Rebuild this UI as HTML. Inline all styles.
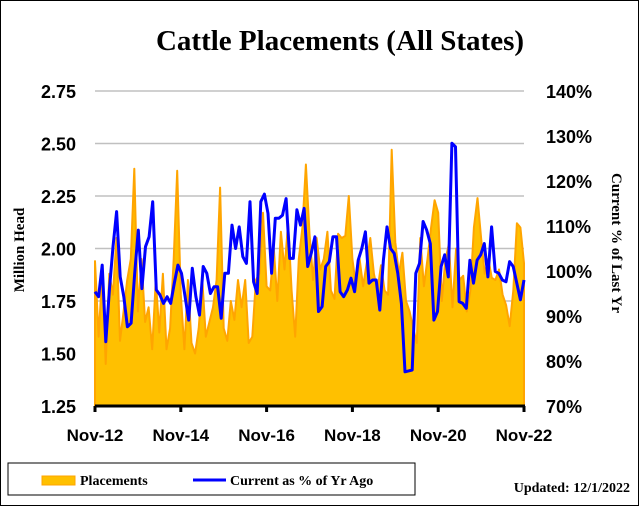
<!DOCTYPE html>
<html><head><meta charset="utf-8"><style>
body{margin:0;background:#fff;}
#wrap{position:relative;width:639px;height:506px;overflow:hidden;font-family:"Liberation Serif",serif;}
</style></head><body>
<div id="wrap">
<svg id="chart" width="639" height="506" xmlns="http://www.w3.org/2000/svg">
<rect x="0.5" y="0.5" width="638" height="505" fill="#fff" stroke="#000"/>
<text x="340" y="50" text-anchor="middle" font-family="Liberation Serif, serif" font-weight="bold" font-size="29">Cattle Placements (All States)</text>
<g id="grid"></g><g id="marks"></g><g id="axes"></g>
<text transform="translate(24,250) rotate(-90)" text-anchor="middle" font-family="Liberation Serif, serif" font-weight="bold" font-size="15">Million Head</text>
<text transform="translate(612,243) rotate(90)" text-anchor="middle" font-family="Liberation Serif, serif" font-weight="bold" font-size="15">Current % of Last Yr</text>
<g>
<rect x="8" y="463" width="407" height="32" fill="#fff" stroke="#000"/>
<rect x="42" y="476" width="33" height="9" fill="#FFC000" stroke="#FFA500"/>
<text x="80" y="485" font-family="Liberation Serif, serif" font-weight="bold" font-size="14">Placements</text>
<line x1="193" y1="480" x2="226" y2="480" stroke="#0000FF" stroke-width="3"/>
<text x="230" y="485" font-family="Liberation Serif, serif" font-weight="bold" font-size="14">Current as % of Yr Ago</text>
</g>
<text x="630" y="492" text-anchor="end" font-family="Liberation Serif, serif" font-weight="bold" font-size="14">Updated: 12/1/2022</text>
</svg>
</div>
<script>
const leftTicks=[1.25,1.5,1.75,2.0,2.25,2.5,2.75];
const leftTickLabels=["1.25","1.50","1.75","2.00","2.25","2.50","2.75"];
const rightTicks=[70,80,90,100,110,120,130,140];
const xTickMonths=[0,24,48,72,96,120];
const xTickLabels=["Nov-12","Nov-14","Nov-16","Nov-18","Nov-20","Nov-22"];
const placements=[
1.94,1.58,1.88,1.45,1.88,1.78,2.05,1.56,1.70,1.85,1.95,2.38,
1.70,1.95,1.65,1.72,1.52,1.85,1.60,1.88,1.52,1.62,1.95,2.37,
1.78,1.52,1.85,1.55,1.50,1.62,1.85,1.58,1.65,1.72,1.85,2.29,
1.62,1.56,1.75,1.66,1.85,1.72,1.85,1.55,1.58,1.85,1.88,2.17,
1.82,1.80,2.00,1.75,2.08,1.90,2.12,1.80,1.58,1.95,2.10,2.40,
2.07,1.85,2.05,1.90,1.95,2.08,1.80,1.76,2.07,2.05,2.06,2.25,
1.95,1.82,1.95,1.82,1.93,2.05,1.88,1.80,1.92,1.80,1.78,2.47,
2.03,1.88,1.98,1.75,1.70,1.62,1.55,2.05,1.82,1.95,2.10,2.23,
2.17,1.75,1.95,2.02,1.72,2.00,1.85,1.87,1.70,1.80,2.10,2.24,
2.05,1.88,1.95,1.86,1.85,1.90,1.78,1.73,1.63,1.80,2.12,2.10,
1.93];
const pctOfYrAgo=[
95.4,94.3,101.3,84.3,95.8,105.4,113.2,98.7,94.3,87.6,88.4,99.5,109.1,96.1,105.4,107.6,115.4,95.8,94.7,92.8,94.3,92.8,97.3,101.3,99.5,94.3,89.1,100.6,94.3,90.2,101,99.5,95,96.5,96.5,89.5,99.5,99.5,110.2,105,
109.8,103.2,101.7,115.4,97.6,95,115.4,117.1,112.8,99.5,111.7,111.7,112.4,116.1,102.8,102.8,113.6,110.2,113.9,101,104,107.6,91,92.1,101,102.1,107.6,107.6,95.4,94.3,95.8,98.4,95.4,102.4,105,
108.7,97.3,98,98,91.3,102.4,109.8,105,103.9,99.5,92.8,77.6,77.8,78,99.5,101.7,111,109.1,106.1,89.1,91,101,103.6,98.7,128.4,127.6,93.2,92.8,91.7,102.4,97.3,102.4,103.6,106.1,98.7,109.8,99.9,99.5,98,97.6,102.1,101,97.3,93.6,98];
const X0=95,X1=524,Y0=406,Y1=91;
function xs(m){return X0+(X1-X0)*m/120;}
function yl(v){return Y0-(v-1.25)/1.5*(Y0-Y1);}
function yr(v){return Y0-(v-70)/70*(Y0-Y1);}
const NS="http://www.w3.org/2000/svg";
function mk(tag,attrs,parent){const e=document.createElementNS(NS,tag);for(const k in attrs)e.setAttribute(k,attrs[k]);parent.appendChild(e);return e;}
const grid=document.getElementById('grid'),marks=document.getElementById('marks'),axes=document.getElementById('axes');
leftTicks.forEach((t,i)=>{
 if(i>0){const g=mk('line',{x1:X0,x2:X1,y1:yl(t),y2:yl(t),stroke:'#c0c0c0','stroke-width':1.5},grid);
 
 }
 const tx=mk('text',{x:76,y:yl(t)+7,'text-anchor':'end','font-family':'Liberation Sans, sans-serif','font-weight':'bold','font-size':18},axes);
 tx.textContent=leftTickLabels[i];
 
 
});
rightTicks.forEach(t=>{
 const tx=mk('text',{x:546,y:yr(t)+7,'font-family':'Liberation Sans, sans-serif','font-weight':'bold','font-size':18},axes);
 tx.textContent=t+'%';
 
 
});
let d='M'+xs(0)+','+Y0;
placements.forEach((v,i)=>{d+=' L'+xs(i).toFixed(1)+','+yl(v).toFixed(1);});
d+=' L'+xs(placements.length-1)+','+Y0+' Z';
const area=mk('path',{d:d,fill:'#FFC000',stroke:'#FFA500','stroke-width':2,'stroke-linejoin':'round'},marks);


let pd='';
pctOfYrAgo.forEach((v,i)=>{const m=i*120/(pctOfYrAgo.length-1);pd+=(i?' L':'M')+xs(m).toFixed(1)+','+yr(v).toFixed(1);});
const ln=mk('path',{d:pd,fill:'none',stroke:'#0000FF','stroke-width':3,'stroke-linejoin':'round'},marks);


const xa=mk('line',{x1:X0,x2:X1+1,y1:Y0,y2:Y0,stroke:'#000','stroke-width':3},axes);


xTickMonths.forEach((m,i)=>{
 const tk=mk('line',{x1:xs(m),x2:xs(m),y1:Y0,y2:Y0+6,stroke:'#000','stroke-width':3},axes);
 
 
 const tx=mk('text',{x:xs(m),y:441,'text-anchor':'middle','font-family':'Liberation Sans, sans-serif','font-weight':'bold','font-size':17},axes);
 tx.textContent=xTickLabels[i];
 
 
});
</script>
</body></html>
